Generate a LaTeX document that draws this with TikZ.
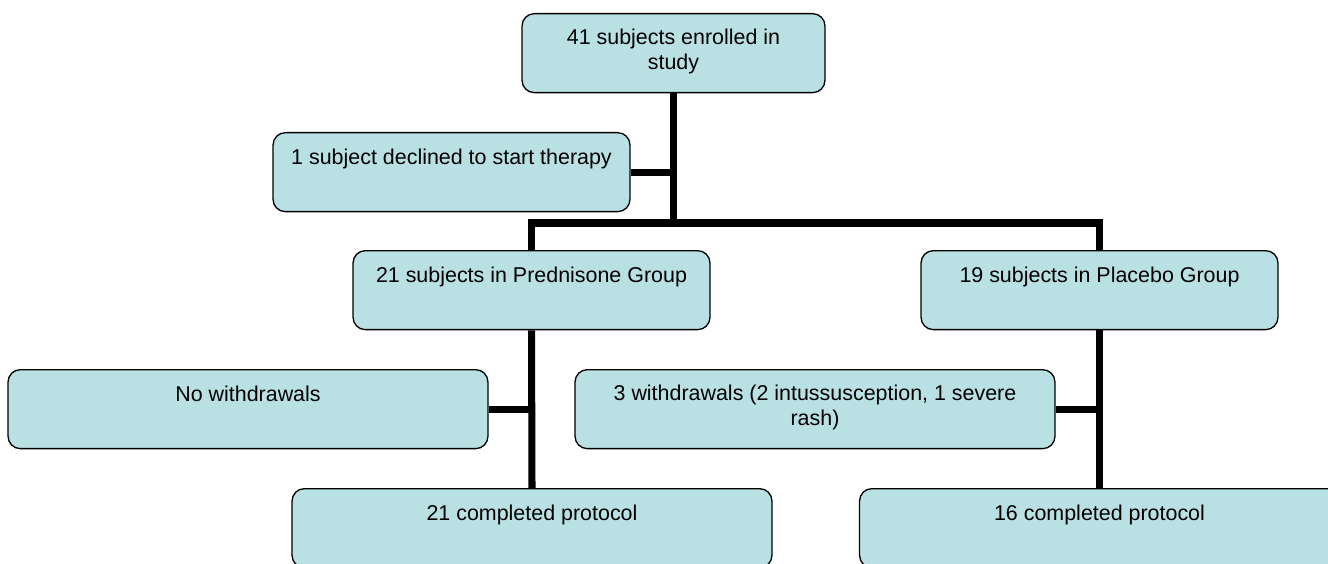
\documentclass[tikz,border=0pt]{standalone}
\usepackage{fontspec}
\setmainfont{Liberation Sans}
\usetikzlibrary{positioning}
\definecolor{boxfill}{RGB}{185,224,227}

\begin{document}
\begin{tikzpicture}[x=0.02cm, y=-0.02cm,
		box/.style={rectangle, draw=black, line width=0.75pt, fill=boxfill, align=center, rounded corners=7pt, anchor=north, inner xsep=4pt, inner ysep=0pt, text height=0.64cm, text depth=0.94cm, font=\fontsize{12.2}{14.2}\selectfont},
		twoline/.style={text height=1.12cm, text depth=0.46cm},
		conn/.style={line width=4pt, black}]
			\useasboundingbox (0,0) rectangle (1328,564);
			\node (enrolled) [box, twoline, minimum width=6.06cm] at (673.5,13) {41 subjects enrolled in \\ study};
			\node (declined) [box, minimum width=7.14cm] at (451.5,132) {1 subject declined to start therapy};
			\node (pred) [box, minimum width=7.14cm] at (531.5,250) {21 subjects in Prednisone Group};
			\node (placebo) [box, minimum width=7.14cm] at (1099.5,250) {19 subjects in Placebo Group};
			\node (nowd) [box, minimum width=9.6cm] at (248,369) {No withdrawals};
			\node (wd) [box, twoline, minimum width=9.6cm] at (815,369) {3 withdrawals (2 intussusception, 1 severe \\ rash)};
			\node (predDone) [box, minimum width=9.6cm] at (532,488) {21 completed protocol};
			\node (placeboDone) [box, minimum width=9.6cm] at (1099.5,488) {16 completed protocol};
			\coordinate (fork) at (673.5,223);
			\draw[conn] (enrolled.south) -- (fork);
			\draw[conn] (declined.east) -- (declined.east -| fork);
			\draw[conn] (pred.north) |- (fork) -| (placebo.north);
			\draw[conn] (pred.south) -- (predDone.north);
			\draw[conn] (nowd.east) -- (nowd.east -| pred.south);
			\draw[conn] (placebo.south) -- (placeboDone.north);
			\draw[conn] (wd.east) -- (wd.east -| placebo.south);
		\end{tikzpicture}
\end{document}
